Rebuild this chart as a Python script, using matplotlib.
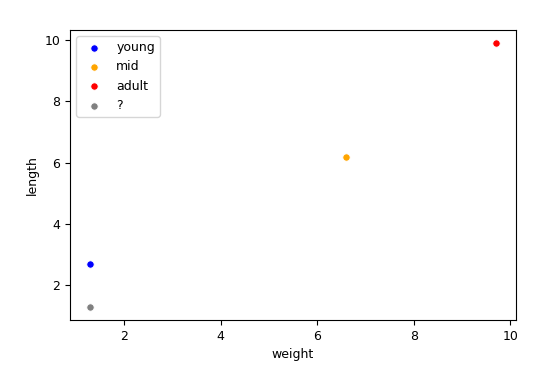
import matplotlib
matplotlib.use("Agg")
import matplotlib.pyplot as plt

# data
labels = ["young", "mid", "adult", "?"]
weight = [1.3, 6.6, 9.7, 1.3]
length = [2.7, 6.2, 9.9, 1.3]
colors = ["blue", "orange", "red", "gray"]

plt.rcParams["font.size"] = 9

fig = plt.figure(figsize=(5.49, 3.70), dpi=100)
ax = fig.add_axes([0.1275, 0.135, 0.8125, 0.784])

for lab, w, l, c in zip(labels, weight, length, colors):
    ax.scatter(w, l, color=c, s=28, edgecolors="white", linewidths=0.6, label=lab)

ax.set_xlabel("weight")
ax.set_ylabel("length")
ax.set_xticks([2, 4, 6, 8, 10])
ax.set_yticks([2, 4, 6, 8, 10])
ax.legend(loc="upper left")

fig.savefig("out.png")
